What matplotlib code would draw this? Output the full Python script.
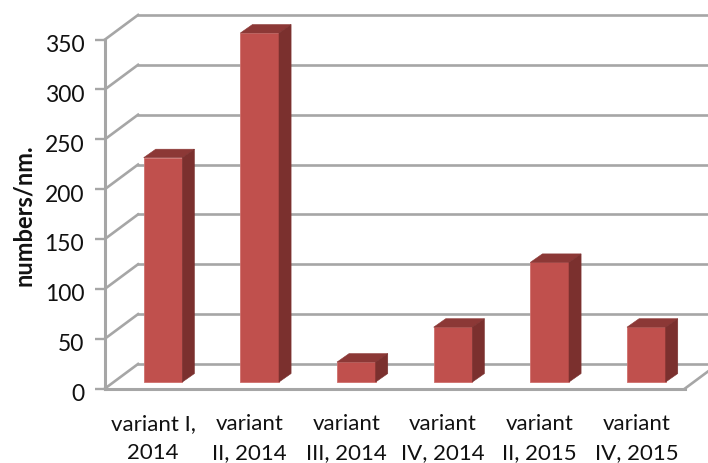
import matplotlib
matplotlib.use("Agg")
import matplotlib.pyplot as plt
from matplotlib.patches import Polygon
from matplotlib.transforms import ScaledTranslation

categories = ["variant I,\n2014", "variant\nII, 2014", "variant\nIII, 2014",
              "variant\nIV, 2014", "variant\nII, 2015", "variant\nIV, 2015"]
values = [225, 350, 20, 55, 120, 55]
yticks = [0, 50, 100, 150, 200, 250, 300, 350]

GRID = "#a6a6a6"
FRONT = "#c0504d"
TOP = "#8c3836"
SIDE = "#7b302e"
FONT = "Lato"

W, H = 708, 464
fig = plt.figure(figsize=(W / 100, H / 100), dpi=100)
ax = fig.add_axes([105 / W, 1 - 389.5 / H, 580 / W, 349 / H])
ax.set_xlim(-0.6, 5.4)
ax.set_ylim(0, 350)
ax.patch.set_alpha(0)

# depth of the wall and of each bar, in data units
wall_dx, wall_dy = 0.342, 24.6
bar_dx, bar_dy = 0.125, 8.5
bar_base = 6.5
bar_w = 0.40

x0, x1 = ax.get_xlim()
for v in yticks:
    ax.plot([x0, x0 + wall_dx], [v, v + wall_dy], color=GRID, lw=1.9, clip_on=False, zorder=1)
    ax.plot([x0 + wall_dx, x1 + wall_dx + 0.1], [v + wall_dy, v + wall_dy],
            color=GRID, lw=1.9, clip_on=False, zorder=1)
ax.plot([x1, x1 + wall_dx], [0, wall_dy], color=GRID, lw=1.9, clip_on=False, zorder=1)

for i, v in enumerate(values):
    xl, xr = i - bar_w / 2, i + bar_w / 2
    yb, yt = bar_base, bar_base + v
    ax.bar(i, v, bottom=yb, width=bar_w, color=FRONT, edgecolor="#cf6f6c", lw=0.6, zorder=3, clip_on=False)
    ax.add_patch(Polygon([(xl, yt), (xr, yt), (xr + bar_dx, yt + bar_dy), (xl + bar_dx, yt + bar_dy)],
                         closed=True, fc=TOP, ec=TOP, lw=0.4, zorder=3, clip_on=False))
    ax.add_patch(Polygon([(xr, yb), (xr + bar_dx, yb + bar_dy), (xr + bar_dx, yt + bar_dy), (xr, yt)],
                         closed=True, fc=SIDE, ec=SIDE, lw=0.4, zorder=3, clip_on=False))

for s in ("top", "right"):
    ax.spines[s].set_visible(False)
for s in ("left", "bottom"):
    ax.spines[s].set_color(GRID)
    ax.spines[s].set_linewidth(2.2)
    ax.spines[s].set_zorder(2)

ax.set_yticks(yticks)
ax.set_yticklabels([str(t) for t in yticks], fontsize=16.5, family=FONT, color="#111111")
ax.tick_params(axis="y", length=7, width=1.7, color=GRID, pad=8)
ax.set_xticks(range(len(categories)))
ax.set_xticklabels(categories, fontsize=16, family=FONT, color="#111111", linespacing=1.56)
ax.tick_params(axis="x", length=0, pad=17.5)
ax.set_ylabel("numbers/nm.", fontsize=17, family=FONT, fontweight="bold", color="#111111", labelpad=7)

# labels sit slightly off their tick positions in the original
shift_y = ScaledTranslation(0, -3 / 100, fig.dpi_scale_trans)
shift_x = ScaledTranslation(-10 / 100, 0, fig.dpi_scale_trans)
for lab in ax.get_yticklabels():
    lab.set_transform(lab.get_transform() + shift_y)
for lab in ax.get_xticklabels():
    lab.set_transform(lab.get_transform() + shift_x)

fig.savefig("out.png", dpi=100)
